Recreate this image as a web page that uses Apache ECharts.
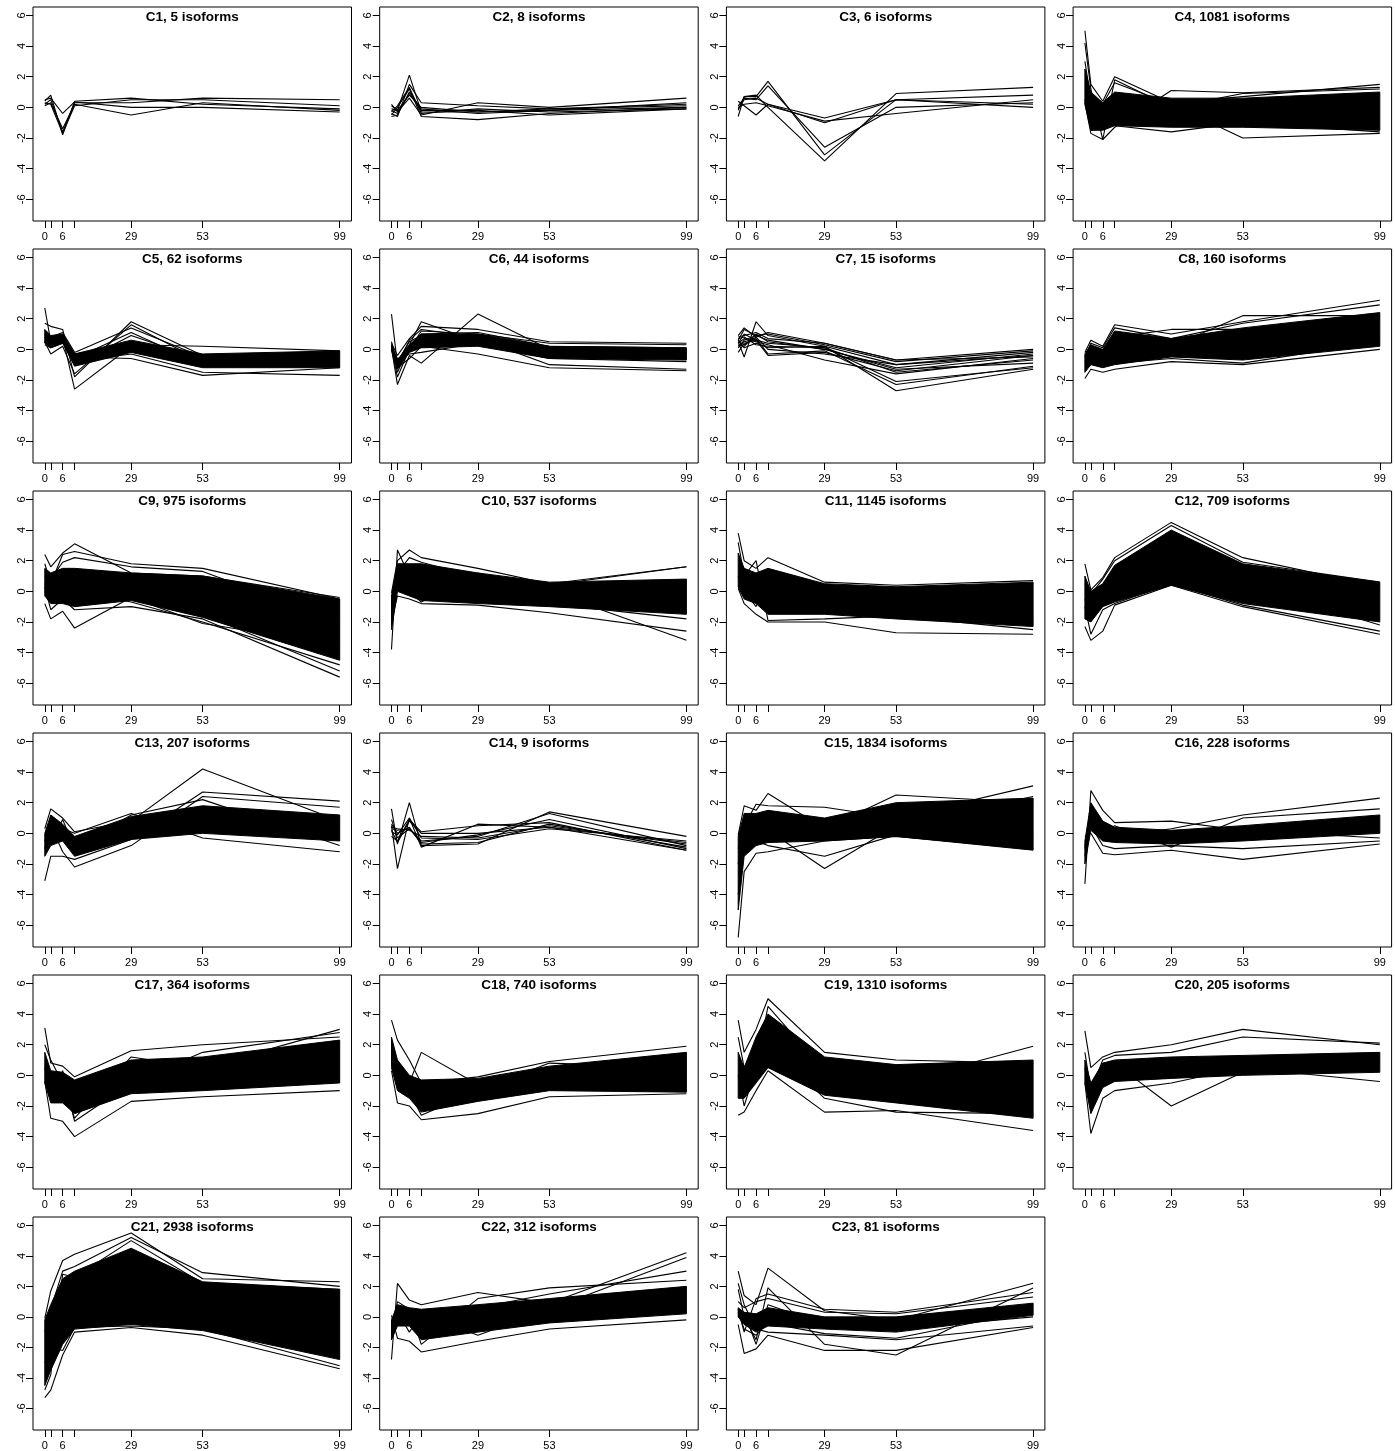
<!DOCTYPE html>
<html>
<head>
<meta charset="utf-8">
<title>Isoform clusters</title>
<script src="https://cdn.jsdelivr.net/npm/echarts@6/dist/echarts.min.js"></script>
<style>
  html, body { margin: 0; padding: 0; background: #fff; }
  #main { width: 1395px; height: 1451px; }
</style>
</head>
<body>
<div id="main"></div>
<script>
// time points (x) and axis ticks
var timePoints = [0, 2, 6, 10, 29, 53, 99];
var xTickValues = [0, 2, 6, 10, 29, 53, 99];
var xLabelValues = [0, 6, 29, 53, 99];
var yTickValues = [-6, -4, -2, 0, 2, 4, 6];

var clusterNames = ['C1', 'C2', 'C3', 'C4', 'C5', 'C6', 'C7', 'C8', 'C9', 'C10', 'C11', 'C12',
  'C13', 'C14', 'C15', 'C16', 'C17', 'C18', 'C19', 'C20', 'C21', 'C22', 'C23'];
var isoformCounts = [5, 8, 6, 1081, 62, 44, 15, 160, 975, 537, 1145, 709,
  207, 9, 1834, 228, 364, 740, 1310, 205, 2938, 312, 81];

// --- per cluster: individual profiles, and the dense envelope (upper / lower) where lines merge ---
var c1Lines = [
  [0.4, 0.8, -1.8, 0.4, 0.6, 0.2, -0.1],
  [0.2, 0.5, -1.6, 0.3, 0.3, 0.6, 0.5],
  [0.1, 0.3, -1.4, 0.2, -0.5, 0.3, -0.2],
  [0.5, 0.6, -0.4, 0.35, 0.0, 0.0, -0.3],
  [0.3, 0.2, -1.7, 0.1, 0.5, 0.5, 0.1]
];
var c2Lines = [
  [0.1, -0.2, 2.1, -0.3, -0.3, -0.2, 0.0],
  [-0.4, -0.6, 1.5, 0.3, 0.1, -0.1, 0.2],
  [-0.5, 0.0, 1.2, -0.6, -0.8, -0.4, 0.0],
  [-0.2, -0.4, 0.9, -0.2, -0.2, -0.5, -0.1],
  [0.2, -0.3, 0.6, -0.5, 0.3, 0.0, 0.6],
  [-0.6, -0.5, 1.0, -0.1, -0.4, -0.2, 0.3],
  [-0.3, 0.1, 1.3, -0.4, -0.1, -0.3, -0.1],
  [-0.1, -0.2, 0.8, 0.0, -0.3, -0.1, 0.1]
];
var c3Lines = [
  [-0.6, 0.7, 0.7, 1.7, -3.1, 0.5, 0.8],
  [0.1, 0.6, 0.5, 1.4, -2.6, 0.0, 0.3],
  [-0.2, 0.7, 0.8, 0.0, -3.5, 0.9, 1.3],
  [0.4, 0.1, -0.5, 0.2, -1.0, 0.5, 0.0],
  [0.0, 0.2, 0.3, 0.1, -0.9, -0.4, 0.5],
  [-0.1, 0.5, 0.6, 0.2, -0.7, 0.5, 0.2]
];
var c4Upper = [2.5, 1.0, 0.3, 1.0, 0.6, 0.6, 1.0];
var c4Lower = [0.2, -1.5, -1.5, -1.2, -1.3, -1.3, -1.5];
var c4Lines = [
  [5.0, 1.5, 0.4, 2.0, 0.3, 0.7, 1.5],
  [4.2, 1.2, -2.1, 1.8, 0.0, 0.9, 1.2],
  [0.3, -1.7, -2.1, -1.3, 1.1, 0.95, 1.3],
  [3.0, 0.5, 0.2, 1.6, 0.2, -2.0, -1.7],
  [0.5, -1.2, 0.3, -1.2, -1.6, -1.0, -1.6]
];
var c5Upper = [1.3, 0.9, 1.0, -0.3, 0.6, -0.3, -0.1];
var c5Lower = [0.4, 0.1, 0.4, -1.1, -0.2, -1.2, -1.2];
var c5Lines = [
  [2.7, 0.5, 0.8, -2.6, 0.2, -0.9, -1.0],
  [1.7, 1.5, 1.3, -1.8, 1.8, -0.4, -0.6],
  [0.5, -0.3, 0.2, -1.6, 1.6, -0.8, -0.3],
  [1.2, 0.8, 1.1, -0.2, 1.4, -0.5, -0.8],
  [0.9, 0.6, 0.9, -0.6, 1.1, -1.0, -0.4],
  [0.6, 0.3, 0.7, -1.0, 0.9, -0.7, -1.1],
  [0.8, 0.2, 0.5, -0.5, -0.6, -1.7, -1.2],
  [1.0, 0.4, 0.6, -0.8, -0.3, -1.5, -1.7],
  [0.3, 0.1, 0.4, -0.3, 0.3, 0.2, -0.1]
];
var c6Upper = [0.3, -0.7, 0.3, 1.0, 1.0, 0.2, 0.1];
var c6Lower = [0.0, -1.3, -0.2, 0.1, 0.2, -0.6, -0.7];
var c6Lines = [
  [2.3, -1.0, 0.3, 1.8, 0.5, 0.0, -0.2],
  [0.1, -2.3, -0.4, -0.9, 2.3, 0.0, -0.5],
  [0.4, -0.4, 0.7, 1.5, 1.3, 0.5, 0.4],
  [0.0, -1.8, 0.0, 1.2, 1.0, 0.4, 0.3],
  [0.3, -1.2, -0.6, 0.2, -0.3, -1.2, -1.4],
  [0.1, -0.8, 0.5, 0.9, 0.7, -1.0, -1.3],
  [0.2, -1.5, 0.2, 1.0, 1.1, 0.2, 0.1],
  [0.0, -0.6, -0.3, -0.2, 0.4, -0.6, -0.8],
  [0.5, -1.0, 0.6, 1.3, 0.8, -0.3, -0.2]
];
var c7Lines = [
  [0.9, 1.4, 0.8, 1.1, 0.4, -0.7, 0.0],
  [0.6, 1.3, 0.9, 1.0, 0.3, -0.8, -0.1],
  [0.5, -0.5, 1.8, 0.9, 0.2, -1.0, -0.2],
  [0.3, 0.2, 1.0, 0.5, 0.0, -1.2, -0.3],
  [-0.2, 0.4, 0.6, -0.4, -0.2, -1.4, -0.4],
  [0.4, 0.7, 0.5, 0.3, -0.7, -1.6, -0.6],
  [0.7, 0.8, 0.3, 0.2, 0.1, -2.1, -1.2],
  [0.2, 0.5, 0.7, -0.3, -0.1, -2.3, -1.1],
  [0.6, 0.1, 0.4, 0.1, 0.2, -2.7, -1.3],
  [0.8, 0.9, 1.1, 0.7, 0.4, -0.7, -0.5],
  [0.1, 0.6, 0.9, 0.6, 0.0, -1.3, -0.9],
  [0.5, 0.3, 0.8, 0.0, -0.3, -1.0, -0.4],
  [0.4, 1.0, 0.6, 0.4, 0.1, -1.5, -0.7]
];
var c8Upper = [-0.3, 0.3, 0.0, 1.2, 0.7, 1.4, 2.4];
var c8Lower = [-1.5, -1.0, -1.2, -1.0, -0.5, -0.7, 0.2];
var c8Lines = [
  [-0.2, 0.6, 0.2, 1.6, 1.0, 1.8, 3.2],
  [-1.9, -1.3, -1.5, -1.3, -0.8, -1.0, 0.0],
  [-0.8, 0.0, -0.3, 0.8, 1.3, 1.3, 2.0],
  [-1.0, -0.5, -0.6, 0.5, 0.2, 2.2, 2.2],
  [-0.5, 0.4, 0.1, 1.4, 0.7, 1.7, 2.9],
  [-1.2, -0.8, -0.9, -0.9, -0.6, -0.9, 0.5]
];
var c9Upper = [1.5, 1.2, 1.5, 1.5, 1.2, 1.0, -0.5];
var c9Lower = [-0.3, -0.8, -0.8, -1.0, -0.6, -1.7, -4.5];
var c9Lines = [
  [2.4, 1.6, 2.5, 3.1, 1.2, 1.0, -0.4],
  [1.8, 0.5, 2.4, 2.6, 1.8, 1.5, -0.5],
  [-0.8, -1.8, -1.3, -2.4, -0.4, -2.1, -3.5],
  [0.3, -1.2, -0.5, -1.2, -1.0, -1.8, -5.6],
  [0.5, 0.0, 0.2, 1.0, 0.3, -1.5, -5.2],
  [1.0, 0.8, 1.9, 2.2, 1.6, 1.3, -2.0],
  [0.0, -0.6, 0.4, 0.0, -0.7, -2.0, -4.8]
];
var c10Upper = [-0.3, 1.8, 1.8, 1.8, 1.2, 0.6, 0.8];
var c10Lower = [-2.5, 0.0, -0.3, -0.6, -0.8, -1.0, -1.5];
var c10Lines = [
  [-3.8, 2.7, 1.0, 1.5, 0.8, 0.0, -3.2],
  [-0.1, 2.0, 2.7, 2.2, 1.5, 0.5, 1.6],
  [-2.0, -0.3, -0.5, -0.8, -0.9, -1.4, -2.6],
  [-1.0, 1.2, 2.2, 1.9, 0.9, 0.4, 1.6],
  [-0.5, 0.3, 0.0, -0.7, 1.2, -0.8, -1.8]
];
var c11Upper = [2.5, 1.5, 1.2, 1.5, 0.5, 0.3, 0.6];
var c11Lower = [0.3, -0.5, -0.8, -1.5, -1.5, -1.8, -2.3];
var c11Lines = [
  [3.8, 2.0, 1.5, 2.2, 0.6, 0.4, 0.7],
  [0.2, -0.8, -1.5, -2.0, -2.0, -2.7, -2.8],
  [3.2, 1.0, 2.0, -1.9, -1.8, -1.6, -2.5],
  [1.0, 0.0, -1.0, 1.0, 0.0, -1.0, -2.0]
];
var c12Upper = [1.0, 0.0, 0.5, 1.7, 4.0, 1.8, 0.6];
var c12Lower = [-1.8, -2.0, -1.0, -0.7, 0.4, -0.8, -2.0];
var c12Lines = [
  [1.8, 0.1, 0.9, 2.2, 4.5, 2.2, 0.3],
  [-2.3, -3.2, -2.6, -0.9, 0.4, -1.0, -2.8],
  [-1.0, -2.8, -1.2, -0.8, 0.5, -0.9, -2.6],
  [0.5, -0.2, 0.8, 2.0, 4.3, 1.9, 0.6],
  [-0.5, -1.5, 0.2, 1.0, 3.0, 0.5, -2.2]
];
var c13Upper = [0.0, 1.2, 0.6, -0.2, 1.1, 1.8, 1.2];
var c13Lower = [-1.5, -0.8, -0.5, -1.5, -0.4, 0.0, -0.5];
var c13Lines = [
  [0.3, 1.6, 1.0, 0.1, 0.8, 4.2, 0.8],
  [-3.1, -1.5, -1.5, -1.7, -0.4, 2.7, 2.1],
  [-1.0, 0.5, -1.2, -2.2, -0.8, 2.4, 1.7],
  [-0.5, 0.8, 0.3, 0.0, 1.3, -0.3, -1.2],
  [-0.8, -0.6, 0.9, -1.0, 1.2, 2.2, -0.8]
];
var c14Lines = [
  [1.6, -0.7, 2.0, -0.8, -0.7, 1.4, -0.2],
  [0.5, -2.3, 1.0, -0.9, 0.6, 0.4, -0.6],
  [0.3, 0.2, 0.3, -0.5, -0.2, 1.3, -0.8],
  [-0.2, -0.5, 0.9, 0.1, 0.5, 0.7, -1.1],
  [0.4, 0.3, 0.2, -0.2, -0.3, 0.5, -0.7],
  [0.9, -0.3, 0.3, -0.6, -0.1, 0.9, -1.0],
  [0.1, -0.1, 1.0, -0.3, -0.4, 0.3, -0.5],
  [0.6, 0.0, 0.4, -0.7, -0.6, 0.6, -0.9],
  [0.2, -0.6, 0.8, 0.0, 0.0, 0.4, -1.1]
];
var c15Upper = [-0.2, 1.3, 1.3, 1.5, 1.0, 2.0, 2.3];
var c15Lower = [-5.0, -1.5, -0.8, -0.6, -0.5, -0.2, -1.1];
var c15Lines = [
  [-6.8, -2.5, -1.3, -1.2, -0.5, -0.2, -1.0],
  [-0.1, 1.8, 1.5, 2.6, 0.3, 2.5, 2.0],
  [-2.0, 0.5, 1.9, 1.8, 1.7, 1.0, 3.1],
  [-4.0, -1.0, 0.0, 0.2, -2.3, 0.5, 2.4],
  [-1.0, 0.2, -0.5, -0.8, -1.5, -0.1, 0.0]
];
var c16Upper = [-0.5, 2.0, 0.8, 0.4, 0.2, 0.5, 1.2];
var c16Lower = [-2.0, 0.2, -0.5, -0.6, -0.7, -0.5, 0.0];
var c16Lines = [
  [-3.3, 2.8, 1.5, 0.7, 0.8, 0.2, -0.3],
  [-0.2, 0.0, -1.3, -1.4, -1.1, -1.7, -0.7],
  [-1.0, 1.5, 0.3, -0.2, 0.3, 1.2, 2.3],
  [-1.5, 1.0, 0.0, 0.5, -0.9, 1.0, 1.6],
  [-0.8, 0.5, -0.8, -1.0, -0.8, -1.0, -0.5]
];
var c17Upper = [1.5, 0.3, 0.2, -0.3, 1.0, 1.2, 2.3];
var c17Lower = [-0.5, -1.8, -1.8, -2.5, -1.2, -1.0, -0.5];
var c17Lines = [
  [3.1, 0.8, 0.6, -0.1, 1.6, 2.0, 2.5],
  [-0.4, -2.8, -3.0, -4.0, -1.7, -1.4, -1.0],
  [2.0, 1.0, -0.5, -2.8, 1.2, 0.5, 3.0],
  [0.5, -1.5, 0.3, -3.0, -0.5, 1.5, 2.8]
];
var c18Upper = [2.5, 1.0, 0.0, -0.3, -0.2, 0.6, 1.5];
var c18Lower = [0.5, -1.0, -1.5, -2.4, -1.7, -1.0, -1.1];
var c18Lines = [
  [3.6, 2.3, 1.0, -0.5, -0.1, 0.9, 1.9],
  [0.3, -1.8, -2.0, -2.9, -2.5, -1.4, -1.2],
  [1.5, 0.5, -0.5, 1.5, -0.6, 0.3, 1.2],
  [2.0, -0.5, -1.0, -2.6, -1.0, 0.8, 0.5]
];
var c19Upper = [1.5, 0.5, 2.5, 4.0, 1.2, 0.7, 1.0];
var c19Lower = [-1.5, -1.5, -0.5, 0.5, -1.3, -1.8, -2.8];
var c19Lines = [
  [3.6, 1.5, 3.0, 5.0, 1.5, 1.0, 0.8],
  [-2.6, -2.4, -1.0, 0.3, -2.4, -2.3, -3.6],
  [0.0, -2.0, 0.5, 4.5, 0.3, -0.5, 1.9],
  [2.5, 0.5, 2.0, 2.0, -1.5, -2.4, -2.5]
];
var c20Upper = [1.0, -0.5, 0.8, 1.0, 1.2, 1.3, 1.5];
var c20Lower = [-0.5, -2.5, -0.8, -0.4, -0.2, 0.0, 0.2];
var c20Lines = [
  [2.9, 0.5, 1.2, 1.5, 2.0, 3.0, 2.0],
  [-0.5, -3.8, -1.5, -1.0, -0.5, 0.5, -0.4],
  [0.5, -2.0, 0.0, 0.8, -2.0, 0.2, 1.0],
  [1.5, -1.0, 1.0, 1.3, 1.5, 2.5, 2.1]
];
var c21Upper = [-0.2, 0.8, 2.5, 3.0, 4.5, 2.3, 1.8];
var c21Lower = [-4.5, -3.5, -1.8, -0.8, -0.5, -0.9, -2.8];
var c21Lines = [
  [-0.1, 1.7, 3.7, 4.1, 5.5, 2.5, 2.3],
  [-5.3, -4.8, -2.5, -1.0, -0.7, -1.2, -3.4],
  [-1.0, 0.5, 3.0, 3.3, 5.2, 2.9, 2.0],
  [-3.0, -2.0, -2.2, -0.7, -0.6, -0.8, -3.2],
  [-4.8, -3.8, 2.8, 2.6, 5.0, 2.2, 1.8]
];
var c22Upper = [-0.2, 0.8, 0.6, 0.5, 0.8, 1.2, 2.0];
var c22Lower = [-1.5, -0.6, -0.6, -1.5, -1.0, -0.4, 0.2];
var c22Lines = [
  [-2.8, 2.2, 1.1, 0.8, 1.6, 0.9, 4.2],
  [0.1, -1.4, -1.6, -2.3, -1.6, -0.8, -0.2],
  [-1.0, 1.0, 0.5, -1.8, 1.2, 1.9, 2.4],
  [-0.5, 0.3, -1.0, 0.2, -1.2, 0.5, 3.9],
  [-1.5, 0.5, 0.0, -1.0, 0.6, 1.5, 3.0]
];
var c23Upper = [0.6, 0.3, 0.2, 0.6, 0.0, 0.0, 0.9];
var c23Lower = [0.0, -0.5, -1.0, -0.6, -0.8, -1.0, 0.1];
var c23Lines = [
  [3.0, 1.4, 0.8, 3.2, 0.4, -0.2, 2.2],
  [-0.5, -2.4, -2.1, -1.2, -2.2, -2.2, -0.7],
  [1.8, 0.0, -1.5, 1.9, -1.8, -2.5, 1.9],
  [0.5, -1.0, 1.2, 1.5, 0.5, 0.3, 1.6],
  [2.2, 0.8, -0.8, -1.0, -1.2, -1.5, -0.6],
  [0.0, 0.3, -1.8, 0.8, -0.5, -0.8, 0.0],
  [1.0, 0.6, 1.0, 1.2, 0.3, 0.2, 1.3],
  [0.3, -0.8, -1.2, -0.4, -1.1, -1.4, 0.4]
];

var clusterLines = [c1Lines, c2Lines, c3Lines, c4Lines, c5Lines, c6Lines, c7Lines, c8Lines,
  c9Lines, c10Lines, c11Lines, c12Lines, c13Lines, c14Lines, c15Lines, c16Lines,
  c17Lines, c18Lines, c19Lines, c20Lines, c21Lines, c22Lines, c23Lines];
var clusterBands = [null, null, null, [c4Upper, c4Lower], [c5Upper, c5Lower], [c6Upper, c6Lower],
  null, [c8Upper, c8Lower], [c9Upper, c9Lower], [c10Upper, c10Lower], [c11Upper, c11Lower],
  [c12Upper, c12Lower], [c13Upper, c13Lower], null, [c15Upper, c15Lower], [c16Upper, c16Lower],
  [c17Upper, c17Lower], [c18Upper, c18Lower], [c19Upper, c19Lower], [c20Upper, c20Lower],
  [c21Upper, c21Lower], [c22Upper, c22Lower], [c23Upper, c23Lower]];

var font = "'Liberation Sans', Arial, sans-serif";
var grids = [], xAxes = [], yAxes = [], series = [], graphics = [];

clusterNames.forEach(function (name, i) {
  var col = i % 4, row = Math.floor(i / 4);
  var left = 33 + col * 346.7, top = 7 + row * 242, w = 318.5, h = 214;

  grids.push({ left: left, top: top, width: w, height: h, show: true,
    borderColor: '#000', borderWidth: 1, backgroundColor: 'transparent' });

  xAxes.push({
    type: 'value', gridIndex: i, min: -3.96, max: 102.96, position: 'bottom',
    splitLine: { show: false }, axisLine: { show: false, onZero: false },
    axisTick: { show: true, inside: false, length: 7, customValues: xTickValues,
      lineStyle: { color: '#000', width: 1 } },
    axisLabel: { customValues: xLabelValues, color: '#000', fontSize: 11, fontFamily: font, margin: 10 }
  });
  yAxes.push({
    type: 'value', gridIndex: i, min: -7.42, max: 6.55, position: 'left',
    splitLine: { show: false }, axisLine: { show: false, onZero: false },
    axisTick: { show: true, inside: false, length: 7, customValues: yTickValues,
      lineStyle: { color: '#000', width: 1 } },
    axisLabel: { customValues: yTickValues, rotate: 90, color: '#000', fontSize: 11, fontFamily: font, margin: 6 }
  });

  var band = clusterBands[i];
  if (band) {
    series.push({
      type: 'custom', xAxisIndex: i, yAxisIndex: i, silent: true,
      data: [[timePoints[0], band[0][0]]],
      renderItem: function (params, api) {
        var pts = [];
        for (var k = 0; k < timePoints.length; k++) pts.push(api.coord([timePoints[k], band[0][k]]));
        for (var k2 = timePoints.length - 1; k2 >= 0; k2--) pts.push(api.coord([timePoints[k2], band[1][k2]]));
        return { type: 'polygon', shape: { points: pts }, style: { fill: '#000', stroke: '#000', lineWidth: 1 } };
      }
    });
  }

  clusterLines[i].forEach(function (vals) {
    series.push({
      type: 'line', xAxisIndex: i, yAxisIndex: i, silent: true, symbol: 'none',
      lineStyle: { color: '#000', width: 1.1 },
      data: timePoints.map(function (t, k) { return [t, vals[k]]; })
    });
  });

  graphics.push({
    type: 'text', x: left + w / 2, y: top + 10.5,
    style: { text: name + ', ' + isoformCounts[i] + ' isoforms', fill: '#000',
      font: 'bold 13.5px ' + font, textAlign: 'center', textVerticalAlign: 'middle' }
  });
});

var myChart = echarts.init(document.getElementById('main'));
myChart.setOption({
  animation: false,
  backgroundColor: '#fff',
  grid: grids,
  xAxis: xAxes,
  yAxis: yAxes,
  series: series,
  graphic: graphics
});
</script>
</body>
</html>
